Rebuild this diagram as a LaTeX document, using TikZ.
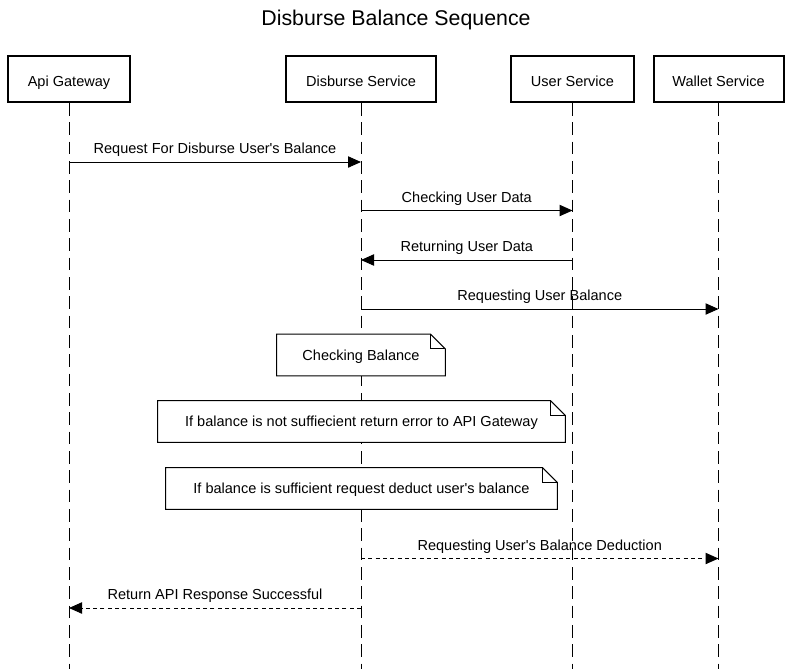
\documentclass[tikz,border=0pt]{standalone}
\usepackage{fontspec}
\setmainfont{Liberation Sans}
\usetikzlibrary{arrows.meta}
\definecolor{lnblack}{rgb}{0.,0.,0.}
\newcommand{\aq}{\textquotesingle}
\tikzstyle{every node}=[font=\fontsize{10.9}{13}\selectfont]

\begin{document}
\begin{tikzpicture}[line cap=butt,line join=miter,x=0.75pt,y=-0.75pt,
    actor/.style={draw=lnblack,fill=white,line width=1.5pt,minimum height=34.5pt,inner sep=0pt,text height=12pt,text depth=1.2pt},
    life/.style={line width=0.75pt,color=lnblack,dash pattern=on 9.5pt off 5pt},
    msg/.style={line width=0.75pt,color=lnblack,-{Triangle[length=9.75pt,width=8.5pt]}},
    reply/.style={msg,dash pattern=on 3pt off 2.5pt},
    lbl/.style={above=6pt,inner sep=0pt,text depth=0pt},
    notebox/.style={minimum height=30.75pt,inner sep=0pt},
    notetxt/.style={text height=9pt,text depth=1.2pt,inner sep=0pt}]
    \useasboundingbox (0,0) rectangle (793,669);
    \node (title) at (396,20) {\fontsize{16}{19}\selectfont Disburse Balance Sequence};
    % participants
    \node[actor,minimum width=91.5pt] (api) at (69,79) {Api Gateway};
    \node[actor,minimum width=112.5pt] (disb) at (361,79) {Disburse Service};
    \node[actor,minimum width=92.25pt] (user) at (572.5,79) {User Service};
    \node[actor,minimum width=97.5pt] (wallet) at (718.5,79) {Wallet Service};
    \coordinate (apiend) at (api |- 0,669);
    \coordinate (disbend) at (disb |- 0,669);
    \coordinate (userend) at (user |- 0,669);
    \coordinate (walletend) at (wallet |- 0,669);
    \draw[life] (api.south) -- (apiend);
    \draw[life] (disb.south) -- (disbend);
    \draw[life] (user.south) -- (userend);
    \draw[life] (wallet.south) -- (walletend);
    % messages
    \draw[msg] (api |- 0,162) -- node[lbl] (lreq) {Request For Disburse User\aq{}s Balance} (disb |- 0,162);
    \draw[msg] (disb |- 0,210.5) -- node[lbl] (lchk) {Checking User Data} (user |- 0,210.5);
    \draw[msg] (user |- 0,260) -- node[lbl] (lret) {Returning User Data} (disb |- 0,260);
    \draw[msg] (disb |- 0,309) -- node[lbl] (lbal) {Requesting User Balance} (wallet |- 0,309);
    % notes
    \foreach \nm/\cx/\cy/\nwd/\txt in {nchk/361/355/126/Checking Balance,
        nnot/361.5/421.5/305.25/If balance is not suffiecient return error to API Gateway,
        nsuf/361.5/488.5/293.25/If balance is sufficient request deduct user\aq{}s balance}{
        \node[notebox,minimum width=\nwd pt] (\nm) at (\cx,\cy) {};
        \fill[white] (\nm.north west) -- ([xshift=-11pt]\nm.north east) -- ([yshift=-11pt]\nm.north east) -- (\nm.south east) -- (\nm.south west) -- cycle;
        \draw[line width=0.75pt] (\nm.north west) -- ([xshift=-11pt]\nm.north east) -- ([yshift=-11pt]\nm.north east) -- (\nm.south east) -- (\nm.south west) -- cycle;
        \draw[line width=0.75pt] ([xshift=-11pt]\nm.north east) -- ([xshift=-11pt,yshift=-11pt]\nm.north east) -- ([yshift=-11pt]\nm.north east);
        \node[notetxt] at (\nm) {\txt};
    }
    \draw[reply] (disb |- 0,558.5) -- node[lbl] (lded) {Requesting User\aq{}s Balance Deduction} (wallet |- 0,558.5);
    \draw[reply] (disb |- 0,608) -- node[lbl] (lok) {Return API Response Successful} (api |- 0,608);
\end{tikzpicture}
\end{document}
